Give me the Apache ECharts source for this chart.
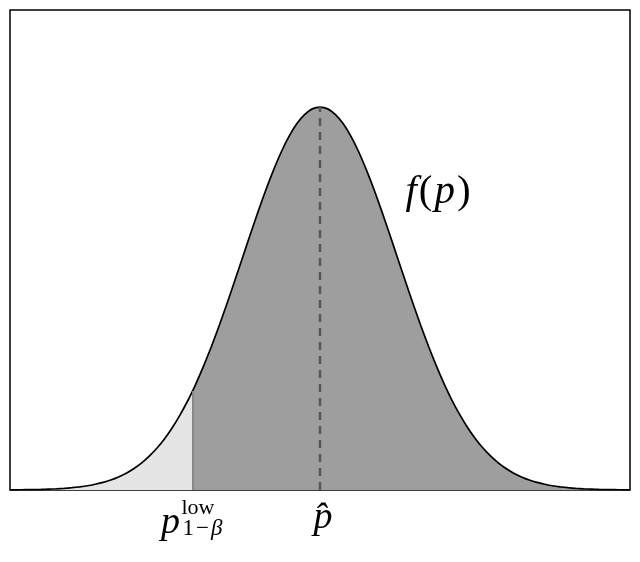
<!DOCTYPE html>
<html>
<head>
<meta charset="utf-8">
<script src="https://cdn.jsdelivr.net/npm/echarts@6/dist/echarts.min.js"></script>
<style>
  html, body { margin: 0; padding: 0; background: #fff; }
  #container { width: 640px; height: 562px; }
</style>
</head>
<body>
<div id="container"></div>
<script>
// values (p in units of sigma, density)
var pValues = [-4, -3.9, -3.8, -3.7, -3.6, -3.5, -3.4, -3.3, -3.2, -3.1, -3, -2.9, -2.8, -2.7, -2.6, -2.5, -2.4, -2.3, -2.2, -2.1,
  -2, -1.9, -1.8, -1.7, -1.6, -1.5, -1.4, -1.3, -1.2, -1.1, -1, -0.9, -0.8, -0.7, -0.6, -0.5, -0.4, -0.3, -0.2, -0.1,
  0, 0.1, 0.2, 0.3, 0.4, 0.5, 0.6, 0.7, 0.8, 0.9, 1, 1.1, 1.2, 1.3, 1.4, 1.5, 1.6, 1.7, 1.8, 1.9,
  2, 2.1, 2.2, 2.3, 2.4, 2.5, 2.6, 2.7, 2.8, 2.9, 3, 3.1, 3.2, 3.3, 3.4, 3.5, 3.6, 3.7, 3.8, 3.9, 4];
var density = [0.0001, 0.0002, 0.0003, 0.0004, 0.0006, 0.0009, 0.0012, 0.0017, 0.0024, 0.0033, 0.0044, 0.0060, 0.0079, 0.0104, 0.0136, 0.0175, 0.0224, 0.0283, 0.0355, 0.0440,
  0.0540, 0.0656, 0.0790, 0.0940, 0.1109, 0.1295, 0.1497, 0.1714, 0.1942, 0.2179, 0.2420, 0.2661, 0.2897, 0.3123, 0.3332, 0.3521, 0.3683, 0.3814, 0.3910, 0.3970,
  0.3989, 0.3970, 0.3910, 0.3814, 0.3683, 0.3521, 0.3332, 0.3123, 0.2897, 0.2661, 0.2420, 0.2179, 0.1942, 0.1714, 0.1497, 0.1295, 0.1109, 0.0940, 0.0790, 0.0656,
  0.0540, 0.0440, 0.0355, 0.0283, 0.0224, 0.0175, 0.0136, 0.0104, 0.0079, 0.0060, 0.0044, 0.0033, 0.0024, 0.0017, 0.0012, 0.0009, 0.0006, 0.0004, 0.0003, 0.0002, 0.0001];
var pLow = -1.645;       // p^low_{1-beta}
var pLowDensity = 0.1031;
var pHat = 0;
var pHatDensity = 0.3989;
var curveLabelAt = [1.51, 0.310]; // f(p)

var curve = pValues.map(function(x, i) { return [x, density[i]]; });
curve.push([pLow, pLowDensity]);
curve.sort(function(a, b) { return a[0] - b[0]; });
var leftTail = curve.filter(function(d) { return d[0] <= pLow; });

var option = {
  animation: false,
  grid: {
    left: 10, right: 10, top: 10, bottom: 72,
    show: true,
    borderColor: '#000',
    borderWidth: 1.5,
    backgroundColor: '#fff'
  },
  xAxis: {
    type: 'value',
    min: -4, max: 4,
    axisLine: { show: false },
    axisTick: { show: false },
    axisLabel: { show: false },
    splitLine: { show: false }
  },
  yAxis: {
    type: 'value',
    min: 0, max: 0.5,
    axisLine: { show: false },
    axisTick: { show: false },
    axisLabel: { show: false },
    splitLine: { show: false }
  },
  series: [
    {
      type: 'line',
      data: curve,
      smooth: 0.2,
      showSymbol: false,
      lineStyle: { width: 0 },
      areaStyle: { color: '#9e9e9e', opacity: 1 }
    },
    {
      type: 'line',
      data: leftTail,
      smooth: 0.2,
      showSymbol: false,
      lineStyle: { width: 0 },
      areaStyle: { color: '#e5e5e5', opacity: 1 }
    },
    {
      type: 'line',
      data: curve,
      smooth: 0.2,
      showSymbol: false,
      lineStyle: { color: '#000', width: 1.7 },
      markLine: {
        silent: true,
        symbol: 'none',
        label: { show: false },
        data: [
          [
            { coord: [pLow, 0], lineStyle: { color: '#888', width: 2, type: 'solid' } },
            { coord: [pLow, pLowDensity] }
          ],
          [
            { coord: [pHat, 0], lineStyle: { color: '#555', width: 2.4, type: [8, 6] } },
            { coord: [pHat, pHatDensity] }
          ]
        ]
      }
    }
  ]
};

var myChart = window.echarts.init(document.getElementById('container'), null, { renderer: 'canvas' });
myChart.setOption(option);

var serif = '"Liberation Serif", "DejaVu Serif", serif';
var fLab = myChart.convertToPixel({ gridIndex: 0 }, curveLabelAt);
var hat = myChart.convertToPixel({ gridIndex: 0 }, [pHat, 0]);
var low = myChart.convertToPixel({ gridIndex: 0 }, [pLow, 0]);

myChart.setOption({
  graphic: [
    {
      type: 'text',
      x: fLab[0], y: fLab[1],
      style: {
        text: '{i|f}{n|(}{i|p}{n|)}',
        textAlign: 'center', textVerticalAlign: 'middle',
        rich: {
          i: { font: 'italic 41px ' + serif, fill: '#000', padding: [0, 2, 0, 2] },
          n: { font: '41px ' + serif, fill: '#000' }
        }
      }
    },
    {
      type: 'text',
      x: hat[0] + 3, y: hat[1] + 28,
      style: { text: 'p\u0302', font: 'italic 38px ' + serif, fill: '#000', textAlign: 'center', textVerticalAlign: 'middle' }
    },
    {
      type: 'text',
      x: low[0] - 22, y: low[1] + 33,
      style: { text: 'p', font: 'italic 38px ' + serif, fill: '#000', textAlign: 'center', textVerticalAlign: 'middle' }
    },
    {
      type: 'text',
      x: low[0] - 11, y: low[1] + 18,
      style: { text: 'low', font: '22px ' + serif, fill: '#000', textAlign: 'left', textVerticalAlign: 'middle' }
    },
    {
      type: 'text',
      x: low[0] - 10, y: low[1] + 39,
      style: {
        text: '{n|1}{m|\u2212}{i|\u03b2}',
        textAlign: 'left', textVerticalAlign: 'middle',
        rich: {
          i: { font: 'italic 23px ' + serif, fill: '#000' },
          m: { font: '23px ' + serif, fill: '#000', padding: [0, 2, 0, 2] },
          n: { font: '23px ' + serif, fill: '#000' }
        }
      }
    }
  ]
});
</script>
</body>
</html>
